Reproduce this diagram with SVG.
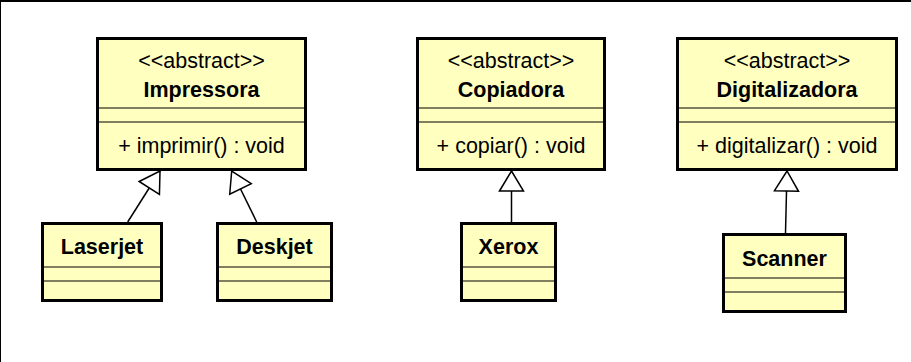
<svg xmlns="http://www.w3.org/2000/svg" width="911" height="362" viewBox="0 0 911 362">
  <style>
    .box { fill: #FFFFC0; stroke: #000; stroke-width: 3; }
    .sep { stroke: #000; stroke-width: 1; }
    .edge { fill: none; stroke: #000; stroke-width: 1.5; marker-end: url(#inherit); }
    text { font-family: "Liberation Sans", Arial, sans-serif; font-size: 21.5px; fill: #000; text-anchor: middle; }
    .name { font-weight: bold; }
  </style>
  <defs>
    <!-- hollow triangle for generalization -->
    <marker id="inherit" markerUnits="userSpaceOnUse" markerWidth="26" markerHeight="28" viewBox="0 0 26 28" refX="22" refY="14" orient="auto">
      <path d="M2,2 L22,14 L2,26 Z" fill="#fff" stroke="#000" stroke-width="1.5"/>
    </marker>
  </defs>

  <!-- outer frame -->
  <rect x="0" y="1" width="912" height="362" fill="#fff" stroke="#000" stroke-width="2"/>

  <!-- generalizations -->
  <g id="connectors">
    <path class="edge" d="M127.7,222 L160,171"/>
    <path class="edge" d="M256.7,222 L231.7,171"/>
    <path class="edge" d="M511.5,222 L511.5,171"/>
    <path class="edge" d="M785.5,233 L787,171"/>
  </g>

  <g id="impressora">
    <rect class="box" x="97.5" y="38.5" width="208" height="131"/>
    <line class="sep" x1="97.5" y1="108" x2="305.5" y2="108"/>
    <line class="sep" x1="97.5" y1="122" x2="305.5" y2="122"/>
    <text x="201.5" y="68">&lt;&lt;abstract&gt;&gt;</text>
    <text class="name" x="201.5" y="97">Impressora</text>
    <text x="201.5" y="152.5">+ imprimir() : void</text>
  </g>

  <g id="copiadora">
    <rect class="box" x="417.5" y="38.5" width="187" height="131"/>
    <line class="sep" x1="417.5" y1="108" x2="604.5" y2="108"/>
    <line class="sep" x1="417.5" y1="122" x2="604.5" y2="122"/>
    <text x="511" y="68">&lt;&lt;abstract&gt;&gt;</text>
    <text class="name" x="511" y="97">Copiadora</text>
    <text x="511" y="152.5">+ copiar() : void</text>
  </g>

  <g id="digitalizadora">
    <rect class="box" x="677.5" y="38.5" width="219" height="131"/>
    <line class="sep" x1="677.5" y1="108" x2="896.5" y2="108"/>
    <line class="sep" x1="677.5" y1="122" x2="896.5" y2="122"/>
    <text x="787" y="68">&lt;&lt;abstract&gt;&gt;</text>
    <text class="name" x="787" y="97">Digitalizadora</text>
    <text x="787" y="152.5">+ digitalizar() : void</text>
  </g>

  <g id="laserjet">
    <rect class="box" x="42.5" y="223.5" width="119" height="77"/>
    <line class="sep" x1="42.5" y1="267" x2="161.5" y2="267"/>
    <line class="sep" x1="42.5" y1="281" x2="161.5" y2="281"/>
    <text class="name" x="102" y="254">Laserjet</text>
  </g>

  <g id="deskjet">
    <rect class="box" x="217.5" y="223.5" width="114" height="77"/>
    <line class="sep" x1="217.5" y1="267" x2="331.5" y2="267"/>
    <line class="sep" x1="217.5" y1="281" x2="331.5" y2="281"/>
    <text class="name" x="274.5" y="254">Deskjet</text>
  </g>

  <g id="xerox">
    <rect class="box" x="461.5" y="223.5" width="94" height="77"/>
    <line class="sep" x1="461.5" y1="267" x2="555.5" y2="267"/>
    <line class="sep" x1="461.5" y1="281" x2="555.5" y2="281"/>
    <text class="name" x="508.5" y="254">Xerox</text>
  </g>

  <g id="scanner">
    <rect class="box" x="723.5" y="234.5" width="122" height="77"/>
    <line class="sep" x1="723.5" y1="278" x2="845.5" y2="278"/>
    <line class="sep" x1="723.5" y1="292" x2="845.5" y2="292"/>
    <text class="name" x="784.5" y="266">Scanner</text>
  </g>
</svg>
